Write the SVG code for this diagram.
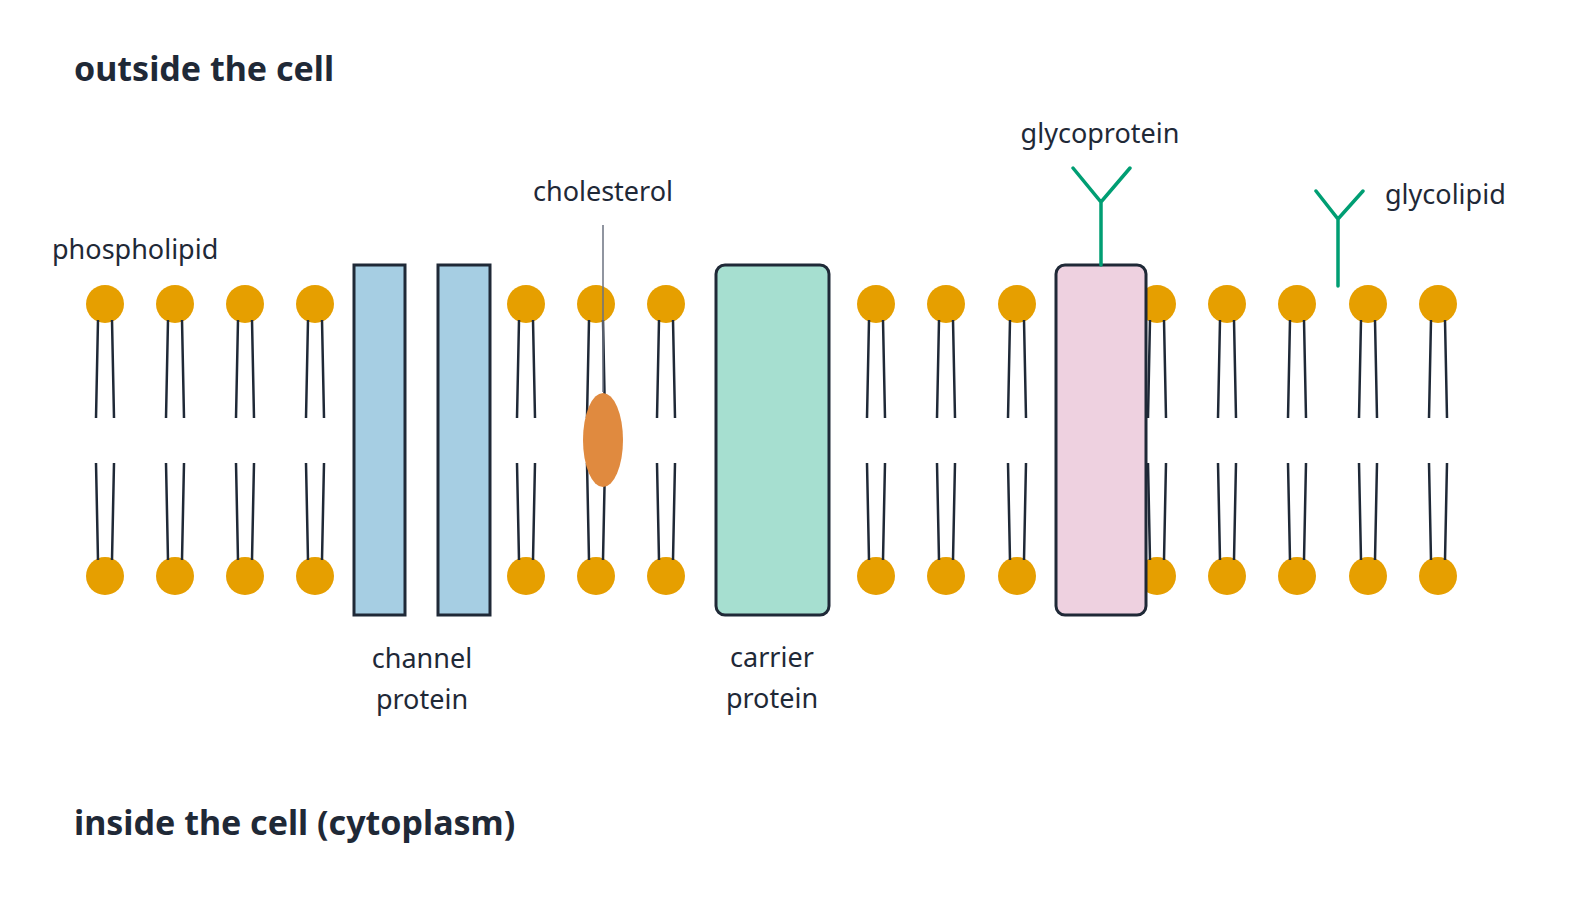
<svg xmlns="http://www.w3.org/2000/svg" width="1571" height="900" viewBox="0 0 1571 900">
<style>
text{font-family:"Noto Sans","DejaVu Sans",sans-serif;fill:#1f2937}
.t{font-size:34px;font-weight:bold}
.l{font-size:27px}
.h{fill:#e69f00}
.tl{stroke:#1f2937;stroke-width:2.5;fill:none}
.g{stroke:#009e73;stroke-width:3.5;fill:none;stroke-linecap:round}
.p{stroke:#1f2937;stroke-width:3}
</style>
<defs>
<g id="pl">
<circle class="h" cx="0" cy="304" r="19"/>
<circle class="h" cx="0" cy="576" r="19"/>
<path class="tl" d="M-7 320L-9 418M7 320L9 418M-9 463L-7 560M9 463L7 560"/>
</g>
</defs>
<rect width="1571" height="900" fill="#fff"/>
<text class="t" x="74" y="81">outside the cell</text>
<text class="t" x="74" y="835">inside the cell (cytoplasm)</text>
<g id="phospholipids">
<use href="#pl" x="105"/><use href="#pl" x="175"/><use href="#pl" x="245"/><use href="#pl" x="315"/>
<use href="#pl" x="526"/><use href="#pl" x="596"/><use href="#pl" x="666"/>
<use href="#pl" x="876"/><use href="#pl" x="946"/><use href="#pl" x="1017"/>
<use href="#pl" x="1157"/><use href="#pl" x="1227"/><use href="#pl" x="1297"/><use href="#pl" x="1368"/><use href="#pl" x="1438"/>
</g>
<text class="l" x="52" y="259">phospholipid</text>
<g id="channel">
<rect class="p" x="354" y="265" width="51" height="350" fill="#a6cee3"/>
<rect class="p" x="438" y="265" width="52" height="350" fill="#a6cee3"/>
<text class="l" x="422" y="668" text-anchor="middle">channel</text>
<text class="l" x="422" y="709" text-anchor="middle">protein</text>
</g>
<g id="cholesterol">
<line x1="603" y1="225" x2="603" y2="392" stroke="#6b7280" stroke-width="1.5"/>
<ellipse cx="603" cy="440" rx="20" ry="47" fill="#e08a3f"/>
<text class="l" x="603" y="201" text-anchor="middle">cholesterol</text>
</g>
<g id="carrier">
<rect class="p" x="716" y="265" width="113" height="350" rx="9" fill="#a6dfd0"/>
<text class="l" x="772" y="667" text-anchor="middle">carrier</text>
<text class="l" x="772" y="708" text-anchor="middle">protein</text>
</g>
<g id="glycoprotein">
<rect class="p" x="1056" y="265" width="90" height="350" rx="9" fill="#eed1e0"/>
<path class="g" d="M1101 265V202M1073 168L1101 202L1130 168"/>
<text class="l" x="1100" y="143" text-anchor="middle">glycoprotein</text>
</g>
<g id="glycolipid">
<path class="g" d="M1338 286V219M1316 191L1338 219L1363 191"/>
<text class="l" x="1385" y="204">glycolipid</text>
</g>
</svg>
